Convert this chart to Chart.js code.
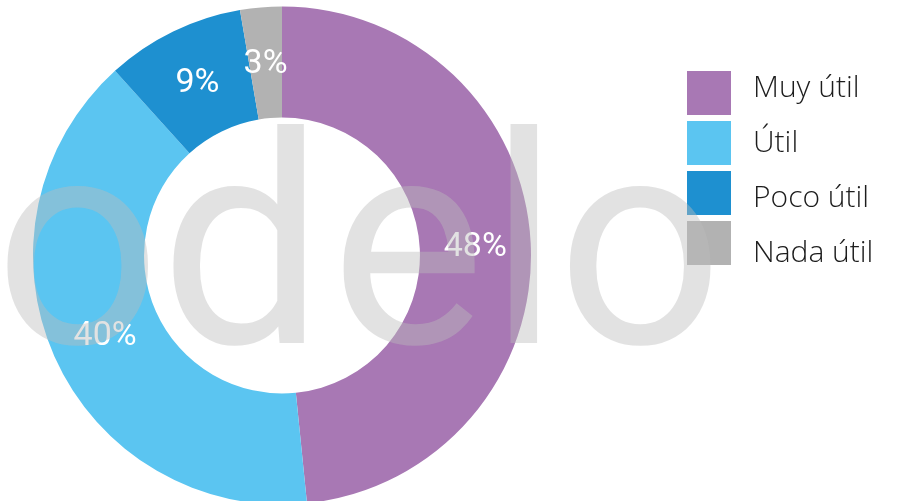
<!DOCTYPE html>
<html>
<head>
<meta charset="utf-8">
<script src="https://cdn.jsdelivr.net/npm/chart.js@4.4.1/dist/chart.umd.min.js"></script>
<style>
  html, body { margin: 0; padding: 0; background: #fff; overflow: hidden; }
  #wrap { width: 909px; height: 501px; position: relative; }
</style>
</head>
<body>
<div id="wrap"><canvas id="chart" width="909" height="501"></canvas></div>
<script>
// data
const categories = ['Muy útil', 'Útil', 'Poco útil', 'Nada útil'];
const shares = [48.4, 39.9, 9.0, 2.7];
const sliceColors = ['#A878B4', '#5BC5F1', '#1E90D0', '#B2B2B2'];
const watermarkText = 'odelo';

// percent labels in the middle of each ring slice
const percentLabels = {
  id: 'percentLabels',
  afterDatasetsDraw: (chart) => {
    const { ctx } = chart;
    const meta = chart.getDatasetMeta(0);
    meta.data.forEach((arc, i) => {
      const { x, y } = arc.tooltipPosition();
      ctx.save();
      ctx.fillStyle = '#fff';
      ctx.font = '400 34px Roboto, sans-serif';
      ctx.textAlign = 'center';
      ctx.textBaseline = 'middle';
      ctx.fillText(`${Math.round(shares[i])}%`, x, y + 2);
      ctx.restore();
    });
  },
};

// legend on the right, square swatches
const sideLegend = {
  id: 'sideLegend',
  afterDraw: (chart) => {
    const { ctx } = chart;
    const left = 687;
    const box = 44;
    ctx.save();
    categories.forEach((label, i) => {
      ctx.fillStyle = sliceColors[i];
      ctx.fillRect(left, 71 + i * 50, box, box);
      ctx.fillStyle = '#1c1c1c';
      ctx.font = '300 30px "Open Sans", sans-serif';
      ctx.textAlign = 'left';
      ctx.textBaseline = 'alphabetic';
      ctx.fillText(label, 753, 97 + i * 55);
    });
    ctx.restore();
  },
};

// big translucent watermark over everything
const watermark = {
  id: 'watermark',
  afterDraw: (chart) => {
    const { ctx } = chart;
    const centers = [76.5, 237.5, 408, 522.5, 639];
    ctx.save();
    ctx.fillStyle = 'rgba(187,187,187,0.43)';
    ctx.font = '400 292px Roboto, sans-serif';
    ctx.textAlign = 'left';
    ctx.textBaseline = 'alphabetic';
    watermarkText.split('').forEach((ch, i) => {
      const m = ctx.measureText(ch);
      const x = centers[i] - (m.actualBoundingBoxRight - m.actualBoundingBoxLeft) / 2;
      ctx.fillText(ch, x, 343);
    });
    ctx.restore();
  },
};

new Chart(document.getElementById('chart'), {
  type: 'doughnut',
  data: {
    labels: categories,
    datasets: [
      {
        data: shares,
        backgroundColor: sliceColors,
        borderWidth: 0,
      },
    ],
  },
  options: {
    responsive: false,
    animation: false,
    radius: 249,
    cutout: 136,
    layout: { padding: { left: 33, top: 10, right: 378, bottom: 0 } },
    plugins: {
      legend: { display: false },
      tooltip: { enabled: false },
    },
  },
  plugins: [percentLabels, sideLegend, watermark],
});
</script>
</body>
</html>
